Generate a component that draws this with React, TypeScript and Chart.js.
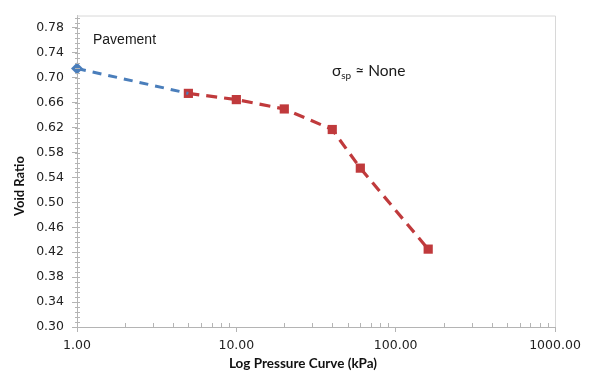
import React, { useEffect, useRef } from "react";
import { Chart, registerables } from "chart.js";

Chart.register(...registerables);

// Consolidation test: void ratio against applied pressure (log scale)
const pavementPressure = [1, 5];
const pavementVoidRatio = [0.715, 0.675];

const testPressure = [5, 10, 20, 40, 60, 160];
const testVoidRatio = [0.675, 0.665, 0.65, 0.617, 0.555, 0.425];

const yTickValues = [0.3, 0.34, 0.38, 0.42, 0.46, 0.5, 0.54, 0.58, 0.62, 0.66, 0.7, 0.74, 0.78];
const xTickValues = [1, 10, 100, 1000];

const Y_MIN = 0.3;
const Y_MAX = 0.8;
const Y_MINOR_STEP = 0.008;

const BLUE = "rgb(74, 126, 187)";
const RED = "rgb(192, 58, 60)";
const AXIS = "#b4b4b4";

const decorations = {
  id: "decorations",
  afterDraw(chart: any) {
    const { ctx, chartArea } = chart;
    const xs = chart.scales.x;
    const ys = chart.scales.y;
    ctx.save();

    // frame on top and right
    ctx.strokeStyle = "#d8d8d8";
    ctx.lineWidth = 1;
    ctx.beginPath();
    ctx.moveTo(chartArea.left, chartArea.top + 0.5);
    ctx.lineTo(chartArea.right + 0.5, chartArea.top + 0.5);
    ctx.lineTo(chartArea.right + 0.5, chartArea.bottom);
    ctx.stroke();

    // minor ticks
    ctx.strokeStyle = AXIS;
    ctx.beginPath();
    for (let d = 1; d < 1000; d *= 10) {
      for (let m = 2; m <= 9; m++) {
        const px = Math.round(xs.getPixelForValue(d * m)) + 0.5;
        ctx.moveTo(px, chartArea.bottom);
        ctx.lineTo(px, chartArea.bottom - 4);
      }
    }
    for (let v = Y_MIN; v < Y_MAX + 1e-9; v += Y_MINOR_STEP) {
      const py = Math.round(ys.getPixelForValue(v)) + 0.5;
      ctx.moveTo(chartArea.left - 2, py);
      ctx.lineTo(chartArea.left + 3, py);
    }
    ctx.stroke();

    // axis titles
    ctx.fillStyle = "#111";
    ctx.font = "bold 13.5px Lato";
    ctx.textAlign = "center";
    ctx.textBaseline = "middle";
    ctx.fillText("Log Pressure Curve (kPa)", 303, 364);
    ctx.font = "bold 13px Lato";
    ctx.save();
    ctx.translate(20, 186);
    ctx.rotate(-Math.PI / 2);
    ctx.fillText("Void Ratio", 0, 0);
    ctx.restore();

    // annotations
    ctx.fillStyle = "#1a1a1a";
    ctx.textAlign = "left";
    ctx.font = "14px 'Liberation Sans'";
    ctx.fillText("Pavement", 93, 40);

    ctx.font = "15.5px Lato";
    ctx.fillText("σ", 332, 71);
    const sw = ctx.measureText("σ").width;
    ctx.font = "10px Lato";
    ctx.fillText("sp", 332 + sw, 76);
    const spw = ctx.measureText("sp").width;
    ctx.font = "15.5px Lato";
    ctx.fillText(" ≈ None", 332 + sw + spw, 71);
    ctx.restore();
  },
};

export default function App() {
  const canvasRef = useRef<HTMLCanvasElement | null>(null);

  useEffect(() => {
    if (!canvasRef.current) return;
    const chart = new Chart(canvasRef.current, {
      type: "scatter",
      data: {
        datasets: [
          {
            label: "Pavement",
            data: pavementPressure.map((p, i) => ({ x: p, y: pavementVoidRatio[i] })),
            showLine: true,
            borderColor: BLUE,
            backgroundColor: BLUE,
            borderWidth: 3,
            borderDash: [9, 7],
            pointStyle: "rectRot",
            pointRadius: [6, 0],
            pointBorderWidth: 0,
            clip: false,
          },
          {
            label: "Test",
            data: testPressure.map((p, i) => ({ x: p, y: testVoidRatio[i] })),
            showLine: true,
            borderColor: RED,
            backgroundColor: RED,
            borderWidth: 3.2,
            borderDash: [11, 7],
            pointStyle: "rect",
            pointRadius: 6.5,
            pointBorderWidth: 0,
            clip: false,
          },
        ],
      },
      options: {
        responsive: false,
        animation: false,
        layout: { padding: { left: 0, right: 35, top: 12, bottom: 0 }, autoPadding: false },
        plugins: { legend: { display: false }, tooltip: { enabled: false } },
        scales: {
          x: {
            type: "logarithmic",
            min: 1,
            max: 1000,
            afterBuildTicks: (scale: any) => {
              scale.ticks = xTickValues.map((v) => ({ value: v, major: true }));
            },
            afterFit: (scale: any) => {
              scale.height = 45;
            },
            ticks: {
              autoSkip: false,
              maxRotation: 0,
              padding: 6,
              color: "#222",
              font: { family: "'DejaVu Sans'", size: 12.5 },
              callback: (v: any) => Number(v).toFixed(2),
            },
            grid: { drawOnChartArea: false, drawTicks: true, tickLength: 5, color: AXIS },
            border: { display: true, color: AXIS, width: 1 },
          },
          y: {
            type: "linear",
            min: Y_MIN,
            max: Y_MAX,
            afterBuildTicks: (scale: any) => {
              scale.ticks = yTickValues.map((v) => ({ value: v }));
            },
            afterFit: (scale: any) => {
              scale.width = 77;
            },
            ticks: {
              autoSkip: false,
              padding: 8,
              color: "#222",
              font: { family: "'DejaVu Sans'", size: 12.5 },
              callback: (v: any) => Number(v).toFixed(2),
            },
            grid: { drawOnChartArea: false, drawTicks: true, tickLength: 5, color: AXIS },
            border: { display: true, color: AXIS, width: 1 },
          },
        },
      },
      plugins: [decorations],
    });
    return () => chart.destroy();
  }, []);

  return (
    <div style={{ position: "fixed", left: 0, top: 0, width: 590, height: 372, background: "#fff" }}>
      <canvas ref={canvasRef} width={590} height={372} />
    </div>
  );
}
